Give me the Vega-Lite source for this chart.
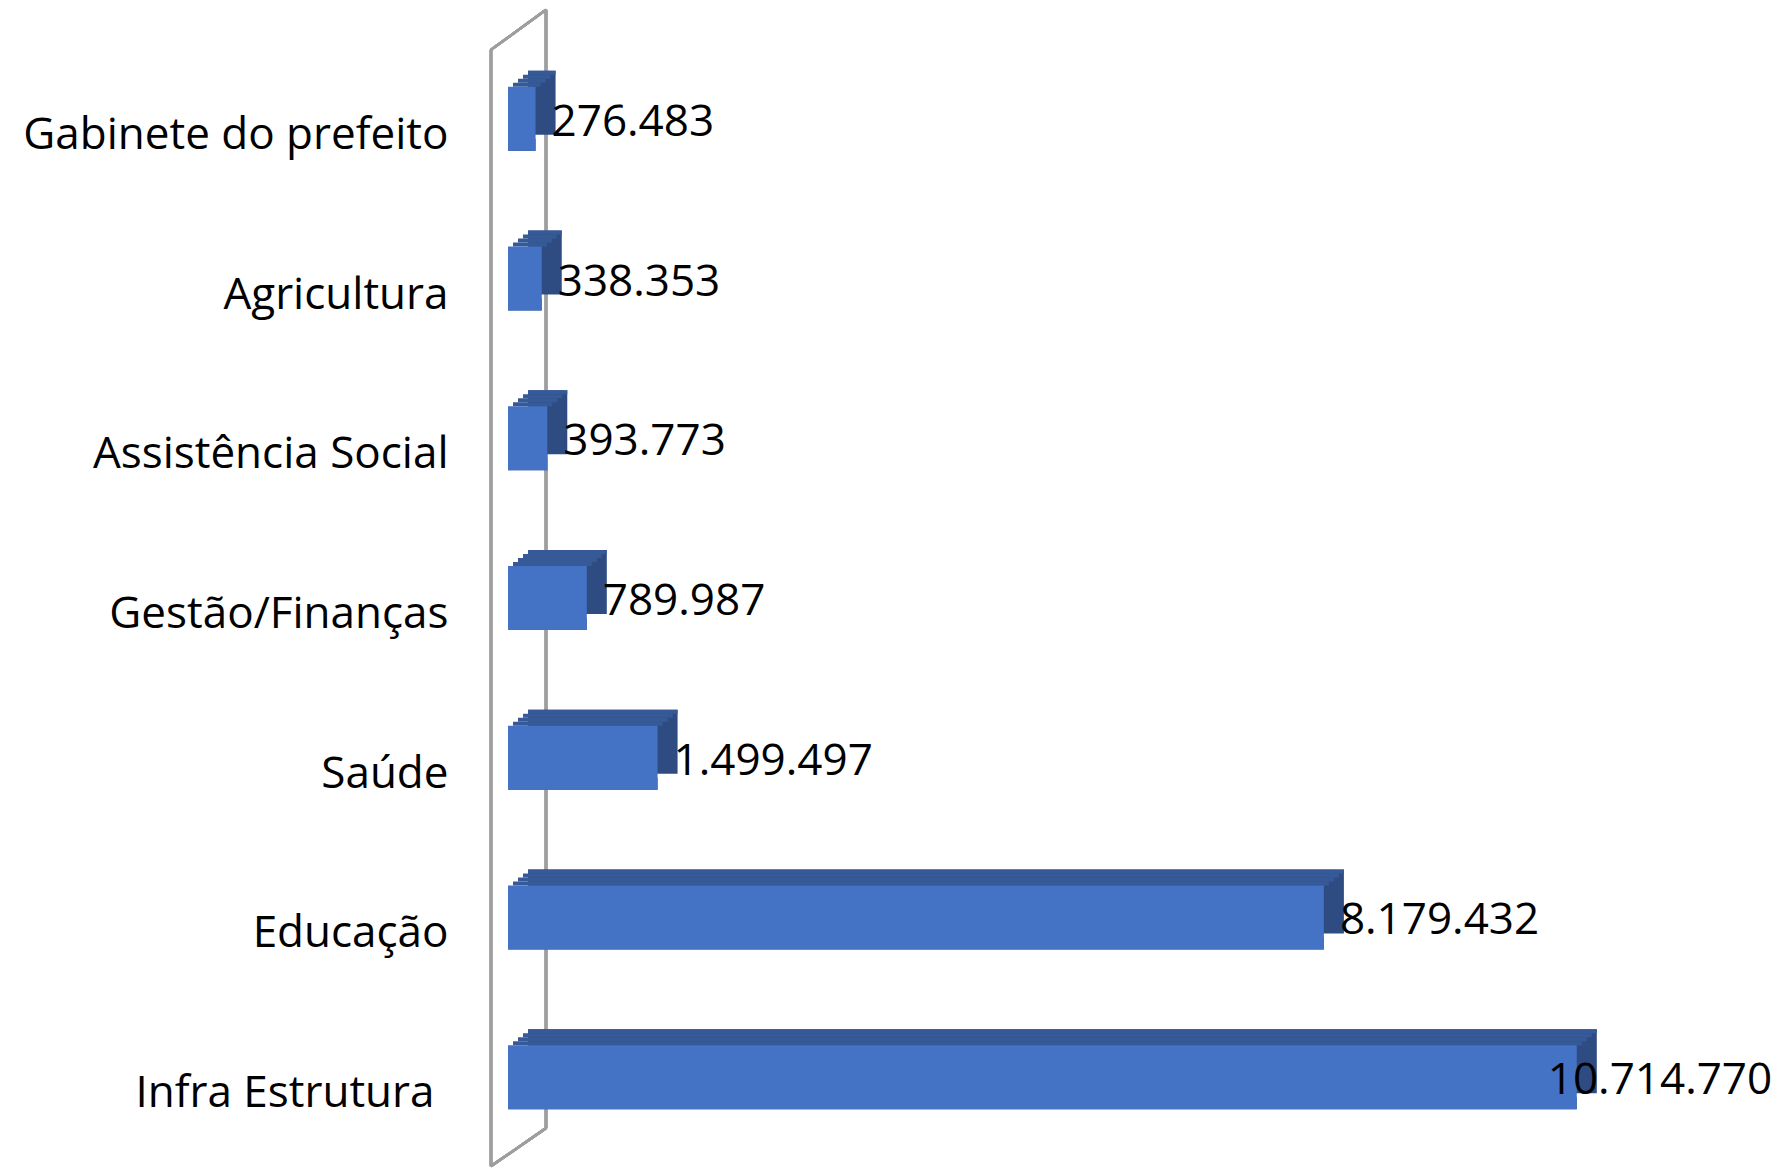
{
  "$schema": "https://vega.github.io/schema/vega-lite/v6.json",
  "autosize": "none",
  "width": 1197,
  "height": 1118,
  "padding": {"left": 508, "top": 39, "right": 84, "bottom": 11},
  "background": "white",
  "config": {
    "view": {"stroke": null},
    "font": "Open Sans",
    "locale": {"number": {"decimal": ",", "thousands": ".", "grouping": [3], "currency": ["R$", ""]}}
  },
  "data": {
    "values": [
      {"categoria": "Gabinete do prefeito", "valor": 276483},
      {"categoria": "Agricultura", "valor": 338353},
      {"categoria": "Assistência Social", "valor": 393773},
      {"categoria": "Gestão/Finanças", "valor": 789987},
      {"categoria": "Saúde", "valor": 1499497},
      {"categoria": "Educação", "valor": 8179432},
      {"categoria": "Infra Estrutura", "valor": 10714770}
    ]
  },
  "encoding": {
    "y": {
      "field": "categoria",
      "type": "nominal",
      "sort": null,
      "scale": {
        "domain": ["Gabinete do prefeito", "Agricultura", "Assistência Social", "Gestão/Finanças", "Saúde", "Educação", "Infra Estrutura"],
        "paddingInner": 0,
        "paddingOuter": 0
      },
      "axis": {
        "title": null,
        "domain": false,
        "ticks": false,
        "tickSize": 0,
        "grid": false,
        "labelFont": "Open Sans",
        "labelFontSize": 44,
        "labelColor": "#000000",
        "labelPadding": {"condition": {"test": "datum.value === 'Infra Estrutura'", "value": 74}, "value": 60},
        "labelOffset": 17,
        "labelBaseline": "middle",
        "labelLimit": 600
      }
    },
    "x": {
      "field": "valor",
      "type": "quantitative",
      "scale": {"domain": [0, 12000000], "nice": false, "zero": true},
      "axis": null
    }
  },
  "layer": [
    {
      "mark": {"type": "rule", "color": "#9E9E9E", "strokeWidth": 2.5, "yOffset": -69, "y2Offset": 89},
      "encoding": {
        "x": {"datum": -170400, "type": "quantitative"},
        "y": {"datum": "Gabinete do prefeito", "type": "nominal"},
        "y2": {"datum": "Infra Estrutura"}
      }
    },
    {
      "mark": {"type": "rule", "color": "#9E9E9E", "strokeWidth": 2.5, "yOffset": -109, "y2Offset": 51},
      "encoding": {
        "x": {"datum": 380900, "type": "quantitative"},
        "y": {"datum": "Gabinete do prefeito", "type": "nominal"},
        "y2": {"datum": "Infra Estrutura"}
      }
    },
    {
      "mark": {"type": "rule", "color": "#9E9E9E", "strokeWidth": 2.5, "yOffset": -69, "y2Offset": -109},
      "encoding": {
        "x": {"datum": -170400, "type": "quantitative"},
        "x2": {"datum": 380900},
        "y": {"datum": "Gabinete do prefeito", "type": "nominal"},
        "y2": {"datum": "Gabinete do prefeito"}
      }
    },
    {
      "mark": {"type": "rule", "color": "#9E9E9E", "strokeWidth": 2.5, "yOffset": 89, "y2Offset": 51},
      "encoding": {
        "x": {"datum": -170400, "type": "quantitative"},
        "x2": {"datum": 380900},
        "y": {"datum": "Infra Estrutura", "type": "nominal"},
        "y2": {"datum": "Infra Estrutura"}
      }
    },
    {"mark": {"type": "bar", "color": "#2E4C82", "size": 64, "xOffset": 20, "x2Offset": 20, "yOffset": -16}},
    {"mark": {"type": "bar", "color": "#2E4C82", "size": 4, "xOffset": 0, "x2Offset": 5, "yOffset": 30}},
    {"mark": {"type": "bar", "color": "#2E4C82", "size": 4, "xOffset": 0, "x2Offset": 10, "yOffset": 26}},
    {"mark": {"type": "bar", "color": "#2E4C82", "size": 4, "xOffset": 0, "x2Offset": 15, "yOffset": 22}},
    {"mark": {"type": "bar", "color": "#365A97", "size": 4, "xOffset": 5, "x2Offset": 5, "yOffset": -34}},
    {"mark": {"type": "bar", "color": "#365A97", "size": 4, "xOffset": 10, "x2Offset": 10, "yOffset": -38}},
    {"mark": {"type": "bar", "color": "#365A97", "size": 4, "xOffset": 15, "x2Offset": 15, "yOffset": -42}},
    {"mark": {"type": "bar", "color": "#365A97", "size": 4, "xOffset": 20, "x2Offset": 20, "yOffset": -46}},
    {"mark": {"type": "bar", "color": "#4472C4", "size": 64}},
    {
      "transform": [{"filter": "datum.categoria !== 'Infra Estrutura'"}],
      "mark": {"type": "text", "align": "left", "baseline": "middle", "dx": 16, "dy": 4, "font": "Open Sans", "fontSize": 44, "color": "#000000"},
      "encoding": {"text": {"field": "valor", "type": "quantitative", "format": ",d"}}
    },
    {
      "transform": [{"filter": "datum.categoria === 'Infra Estrutura'"}],
      "mark": {"type": "text", "align": "left", "baseline": "middle", "dx": -29, "dy": 4, "font": "Open Sans", "fontSize": 44, "color": "#000000"},
      "encoding": {"text": {"field": "valor", "type": "quantitative", "format": ",d"}}
    }
  ]
}
